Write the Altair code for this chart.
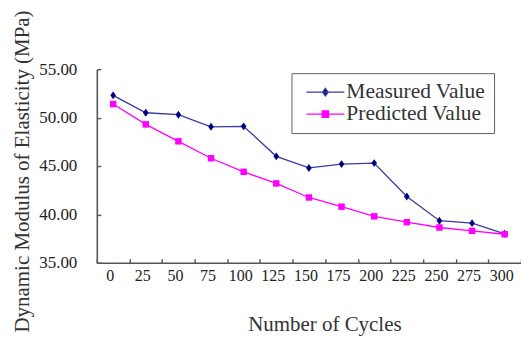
import altair as alt
import pandas as pd

# Freeze-thaw test results: dynamic modulus vs. number of cycles
cycles = [0, 25, 50, 75, 100, 125, 150, 175, 200, 225, 250, 275, 300]
measured = [52.3, 50.5, 50.3, 49.05, 49.1, 46.0, 44.8, 45.2, 45.3, 41.85, 39.35, 39.1, 38.0]
predicted = [51.4, 49.3, 47.55, 45.8, 44.4, 43.2, 41.75, 40.8, 39.8, 39.2, 38.65, 38.3, 37.95]

series_names = ["Measured Value", "Predicted Value"]
line_colors = ["#3a3aa0", "#ff00ff"]
marker_colors = ["#000080", "#ff00ff"]

# marker shapes on the plot (tall diamond, square)
DIAMOND = "M0,-1L0.72,0L0,1L-0.72,0Z"
SQUARE = "M-1,-1L1,-1L1,1L-1,1Z"
# legend glyphs: a short line with the marker in its middle
legend_paths = [
    "M-1.9,0L1.9,0M0,-0.38L0.28,0L0,0.38L-0.28,0Z",
    "M-1.9,0L1.9,0M-0.32,-0.32L0.32,-0.32L0.32,0.32L-0.32,0.32Z",
]

df = pd.concat([
    pd.DataFrame({"cycles": cycles, "value": measured, "series": series_names[0]}),
    pd.DataFrame({"cycles": cycles, "value": predicted, "series": series_names[1]}),
])

FONT = "Liberation Serif"
AXIS_GRAY = "#555555"

x_scale = alt.Scale(type="band", paddingInner=0, paddingOuter=0)
y_scale = alt.Scale(domain=[35, 55], nice=False, zero=False)
color_scale = alt.Scale(domain=series_names, range=line_colors)
Y_TICKS = [35, 40, 45, 50, 55]

W, H = 425, 194

base = alt.Chart(df)

# Lines, carrying the labelled bottom and left axes
lines = base.mark_line(strokeWidth=1.3).encode(
    x=alt.X("cycles:O", scale=x_scale, bandPosition=0.5,
            axis=alt.Axis(title="Number of Cycles", labelAngle=0, ticks=False,
                          domainColor=AXIS_GRAY, domainWidth=1.6,
                          labelFont=FONT, labelFontSize=16, labelColor="#222222",
                          labelPadding=5, labelOffset=-3,
                          titleFont=FONT, titleFontSize=21, titleFontWeight="normal",
                          titleColor="#333333", titleBaseline="middle",
                          titleX=228, titleY=62)),
    y=alt.Y("value:Q", scale=y_scale,
            axis=alt.Axis(title="Dynamic Modulus of Elasticity (MPa)",
                          values=Y_TICKS, format=".2f", ticks=False,
                          grid=False, domainColor=AXIS_GRAY, domainWidth=1.6,
                          labelFont=FONT, labelFontSize=17, labelColor="#222222",
                          labelPadding=20,
                          titleFont=FONT, titleFontSize=21, titleFontWeight="normal",
                          titleColor="#333333", titleBaseline="middle",
                          titleAngle=-90, titleX=-74, titleY=102)),
    color=alt.Color("series:N", scale=color_scale, legend=None),
    detail="series:N",
)

# Measured markers, carrying inward-pointing tick axes
pts_measured = base.transform_filter(
    alt.datum.series == series_names[0]
).mark_point(filled=True, opacity=1, shape=DIAMOND, size=62, color=marker_colors[0]).encode(
    x=alt.X("cycles:O", scale=x_scale, bandPosition=0.5,
            axis=alt.Axis(orient="top", offset=-H, title=None, labels=False,
                          domain=False, tickBand="extent", tickSize=4,
                          tickWidth=1.4, tickColor=AXIS_GRAY)),
    y=alt.Y("value:Q", scale=y_scale,
            axis=alt.Axis(orient="right", offset=-W, title=None, labels=False,
                          domain=False, grid=False, values=Y_TICKS,
                          tickSize=4, tickWidth=1.4, tickColor=AXIS_GRAY)),
)

# Predicted markers
pts_predicted = base.transform_filter(
    alt.datum.series == series_names[1]
).mark_point(filled=True, opacity=1, shape=SQUARE, size=42, color=marker_colors[1]).encode(
    x=alt.X("cycles:O", scale=x_scale, bandPosition=0.5, axis=None),
    y=alt.Y("value:Q", scale=y_scale, axis=None),
)

legend_def = alt.Legend(
    title=None, orient="none", legendX=195, legendY=4,
    strokeColor="#5a6272", fillColor="white", padding=8,
    symbolSize=400, symbolStrokeWidth=1.3, symbolOffset=15,
    labelFont=FONT, labelFontSize=21.5, labelColor="#333333",
    labelOffset=10, rowPadding=-2.5, labelLimit=300,
)

# Legend-only layer: its glyphs sit below the plot area and are clipped away
legend_layer = base.mark_point(filled=True, opacity=1, clip=True).encode(
    y=alt.Y(datum=0, scale=y_scale, axis=None),
    fill=alt.Fill("series:N", scale=alt.Scale(domain=series_names, range=marker_colors),
                  legend=legend_def),
    stroke=alt.Stroke("series:N", scale=alt.Scale(domain=series_names, range=line_colors),
                      legend=legend_def),
    shape=alt.Shape("series:N", scale=alt.Scale(domain=series_names, range=legend_paths),
                    legend=legend_def),
)

chart = alt.layer(lines, pts_measured, pts_predicted, legend_layer).resolve_axis(
    x="independent", y="independent"
).resolve_scale(
    fill="independent", stroke="independent", shape="independent"
).properties(
    width=W, height=H,
    autosize=alt.AutoSizeParams(type="none"),
    padding={"left": 97, "top": 69, "right": 0, "bottom": 79},
    background="white",
).configure_view(stroke=None)

chart.save("out.html", embed_options={"renderer": "svg", "actions": False})
